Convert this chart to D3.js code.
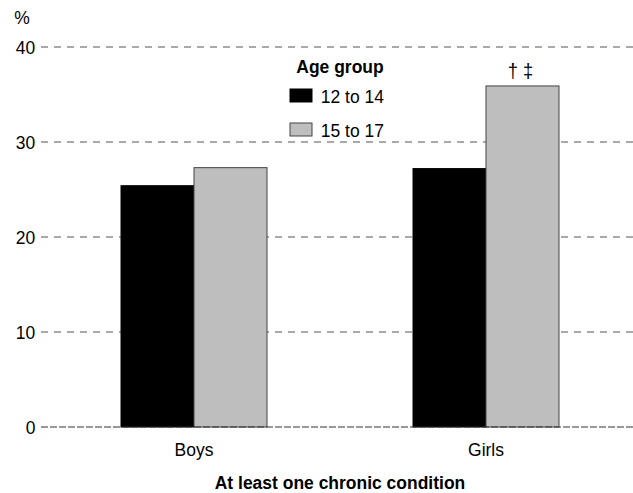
<!DOCTYPE html>
<html>
<head>
<meta charset="utf-8">
<script src="https://cdn.jsdelivr.net/npm/d3@7"></script>
<style>
  html, body { margin: 0; padding: 0; background: #fff; }
  text {
    font-family: "Liberation Sans", Arial, sans-serif;
    transform-box: fill-box; transform-origin: center; transform: scaleX(0.92);
  }
</style>
</head>
<body>
<svg id="chart" width="633" height="493"></svg>
<script>
// Share of adolescents with at least one chronic condition, by sex and age group
const categories = ["Boys", "Girls"];
const seriesNames = ["12 to 14", "15 to 17"];
const values12to14 = [25.4, 27.2];
const values15to17 = [27.3, 35.9];
const yTicks = [0, 10, 20, 30, 40];
const annotations = ["", "† ‡"];
const seriesColors = ["#000000", "#bebebe"];

const FS = 19;
const svg = d3.select("#chart");
const W = 633, H = 493;
const plotLeft = 48, plotRight = 632, plotTop = 47, plotBottom = 427;

const x = d3.scaleBand().domain(categories).range([plotLeft, plotRight])
  .paddingInner(0.5).paddingOuter(0.25);
const xs = d3.scaleBand().domain(seriesNames).range([0, x.bandwidth()]);
const y = d3.scaleLinear().domain([0, 40]).range([plotBottom, plotTop]);

// Dashed horizontal gridlines with tick labels
const yAxis = d3.axisLeft(y).tickValues(yTicks).tickSize(0).tickPadding(0)
  .tickFormat(d3.format("d"));
const gy = svg.append("g").attr("transform", `translate(36,0)`).call(yAxis);
gy.select(".domain").remove();
gy.selectAll("text").attr("font-size", FS).attr("fill", "#000").attr("dx", 0);

svg.append("g").selectAll("line").data(yTicks.filter(d => d > 0)).join("line")
  .attr("x1", 41).attr("x2", W).attr("y1", d => y(d)).attr("y2", d => y(d))
  .attr("stroke", "#555").attr("stroke-width", 1).attr("stroke-dasharray", "7,6");

svg.append("text").attr("x", 22).attr("y", 24).attr("text-anchor", "middle")
  .attr("font-size", FS).text("%");

// Bars
const rows = categories.map((c, i) => ({ cat: c, vals: [values12to14[i], values15to17[i]] }));
const groups = svg.append("g").selectAll("g").data(rows).join("g")
  .attr("transform", d => `translate(${x(d.cat)},0)`);
groups.selectAll("rect").data(d => d.vals.map((v, j) => ({ v, s: seriesNames[j], j })))
  .join("rect")
  .attr("x", d => xs(d.s)).attr("width", xs.bandwidth())
  .attr("y", d => y(d.v)).attr("height", d => y(0) - y(d.v))
  .attr("fill", d => seriesColors[d.j])
  .attr("stroke", d => d.j === 1 ? "#444" : "#000").attr("stroke-width", 1);

// Significance markers
groups.append("text")
  .attr("x", xs("15 to 17") + xs.bandwidth() / 2 - 2)
  .attr("y", (d, i) => y(values15to17[i]) - 8)
  .attr("text-anchor", "middle").attr("font-size", 20)
  .text((d, i) => annotations[i]);

// Baseline
svg.append("line").attr("x1", 41).attr("x2", W).attr("y1", y(0)).attr("y2", y(0))
  .attr("stroke", "#333").attr("stroke-width", 1).attr("stroke-dasharray", "7,2");

// Category labels
const xAxis = d3.axisBottom(x).tickSize(0).tickPadding(0);
const gx = svg.append("g").attr("transform", `translate(0,${plotBottom + 16})`).call(xAxis);
gx.select(".domain").remove();
gx.selectAll("text").attr("font-size", FS).attr("fill", "#000");

svg.append("text").attr("x", 340).attr("y", 489).attr("text-anchor", "middle")
  .attr("font-size", FS).attr("font-weight", "bold").text("At least one chronic condition");

// Legend
const legend = svg.append("g");
legend.append("text").attr("x", 340).attr("y", 73).attr("text-anchor", "middle")
  .attr("font-size", FS).attr("font-weight", "bold").text("Age group");
const li = legend.selectAll("g").data(seriesNames).join("g")
  .attr("transform", (d, i) => `translate(290,${89 + i * 34})`);
li.append("rect").attr("width", 22).attr("height", 13)
  .attr("fill", (d, i) => seriesColors[i]).attr("stroke", (d, i) => i ? "#444" : "#000");
li.append("text").attr("x", 28).attr("y", 14).attr("font-size", FS).text(d => d);
</script>
</body>
</html>
